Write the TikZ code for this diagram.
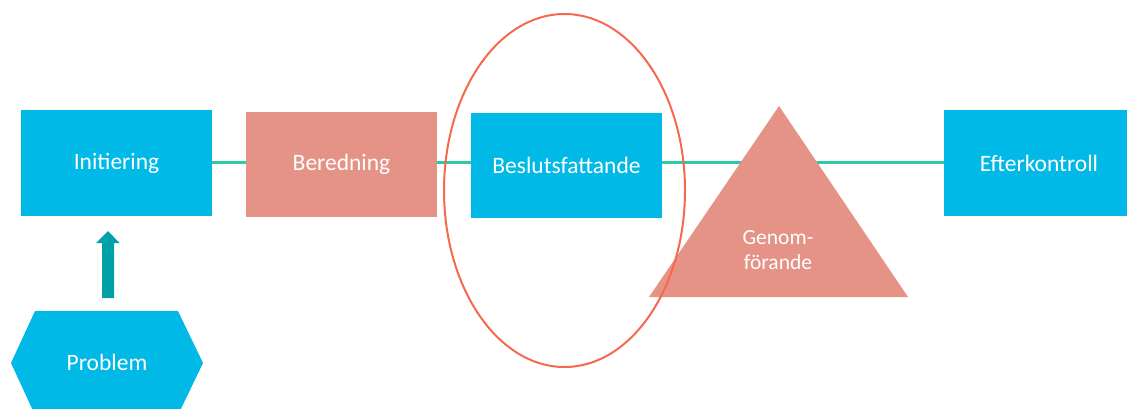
\documentclass[tikz,border=0pt]{standalone}
\usepackage{fontspec}
\setmainfont{Carlito}
\usetikzlibrary{backgrounds}
\definecolor{cyanbox}{HTML}{00B9E6}
\definecolor{salmon}{HTML}{E59386}
\definecolor{linegreen}{HTML}{2CCBA6}
\definecolor{arrowteal}{HTML}{00A0A8}
\definecolor{ringred}{HTML}{F5694F}
\tikzset{
  stepbox/.style={rectangle, inner sep=0pt, text=white, font=\fontsize{23.5}{28}\selectfont},
  bluebox/.style={stepbox, fill=cyanbox},
  redbox/.style={stepbox, fill=salmon},
  flowline/.style={draw=linegreen, line width=2.5pt},
  ring/.style={draw=ringred, line width=2pt},
}
\begin{document}
\begin{tikzpicture}[x=1pt,y=-1pt]
\useasboundingbox (0,0) rectangle (1127,408);
\clip (0,0) rectangle (1127,408);
% boxes
\node[bluebox, minimum width=191pt, minimum height=106pt] (init) at (116.5,163) {Initiering};
\node[redbox, minimum width=191pt, minimum height=105pt] (bered) at (341.5,164.5) {Beredning};
\node[bluebox, minimum width=191pt, minimum height=105pt] (beslut) at (566.5,165.5) {Beslutsfattande};
\node[bluebox, minimum width=190pt, minimum height=106pt, text width=190pt, align=center] (efter) at (1039,163) {Efterkontroll};
% triangle
\fill[salmon] (779,106) -- (908,297) -- (649,297) -- cycle;
\node[text=white, font=\fontsize{21.5}{25}\selectfont, align=center] (genom) at (778,250) {Genom-\\förande};
% flow line behind
\begin{pgfonlayer}{background}
\draw[flowline] (init.east |- 0,162.5) -- (efter.west |- 0,162.5);
\end{pgfonlayer}
% hexagon
\fill[cyanbox] (35,311) -- (178,311) -- (203,363) -- (178,415) -- (35,415) -- (11,363) -- cycle;
\node[text=white, font=\fontsize{23.5}{28}\selectfont] (prob) at (107,362) {Problem};
% arrow
\fill[arrowteal] (102,298) -- (102,243) -- (96,243) -- (108,231) -- (119.5,243) -- (114,243) -- (114,298) -- cycle;
% ellipse
\draw[ring] (564.5,190.5) ellipse [x radius=120.5pt, y radius=176.5pt];
\end{tikzpicture}
\end{document}
